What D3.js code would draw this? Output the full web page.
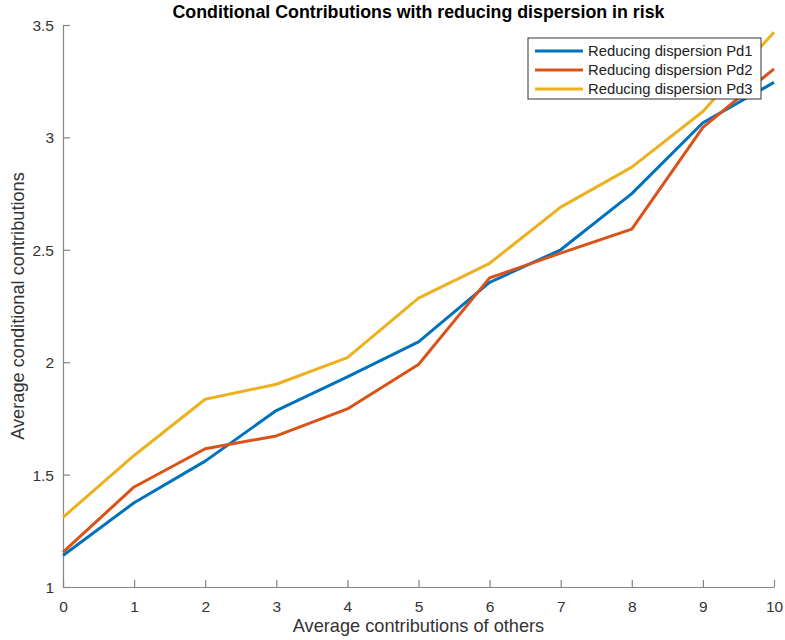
<!DOCTYPE html>
<html>
<head>
<meta charset="utf-8">
<script src="https://cdn.jsdelivr.net/npm/d3@7"></script>
<style>
    body { margin: 0; background: #fff; }
    text { font-family: "Liberation Sans", Arial, sans-serif; }
</style>
</head>
<body>
<div id="chart"></div>
<script>
let xValues = [0, 1, 2, 3, 4, 5, 6, 7, 8, 9, 10]
let pd1 = [1.14, 1.375, 1.56, 1.785, 1.935, 2.09, 2.355, 2.50, 2.75, 3.065, 3.245]
let pd2 = [1.155, 1.445, 1.615, 1.672, 1.792, 1.99, 2.375, 2.485, 2.592, 3.045, 3.305]
let pd3 = [1.31, 1.585, 1.835, 1.902, 2.02, 2.285, 2.44, 2.69, 2.868, 3.115, 3.468]
let seriesNames = ["Reducing dispersion Pd1", "Reducing dispersion Pd2", "Reducing dispersion Pd3"]
let xTicks = [0, 1, 2, 3, 4, 5, 6, 7, 8, 9, 10]
let yTicks = [1, 1.5, 2, 2.5, 3, 3.5]

let colors = ["#0072bd", "#d95319", "#edb120"]

let width = 785, height = 640
let margin = { top: 25, right: 11, bottom: 53, left: 63 }

let svg = d3.select('#chart')
    .append('svg')
    .attr('width', width)
    .attr('height', height)

let x = d3.scaleLinear()
    .domain([0, 10])
    .range([margin.left, width - margin.right])

let y = d3.scaleLinear()
    .domain([1, 3.5])
    .range([height - margin.bottom, margin.top])

// axes, MATLAB style ticks pointing inward
let xAxis = d3.axisBottom(x)
    .tickValues(xTicks)
    .tickSizeInner(-7)
    .tickSizeOuter(0)
    .tickPadding(11)
    .tickFormat(d3.format('d'))

let yAxis = d3.axisLeft(y)
    .tickValues(yTicks)
    .tickSizeInner(-7)
    .tickSizeOuter(0)
    .tickPadding(9)
    .tickFormat(d => d)

let gx = svg.append('g')
    .attr('transform', `translate(0, ${y(1)})`)
    .call(xAxis)

let gy = svg.append('g')
    .attr('transform', `translate(${x(0)}, 0)`)
    .call(yAxis)

;[gx, gy].forEach(g => {
    g.select('.domain').attr('stroke', '#858585').attr('stroke-width', 1.2)
    g.selectAll('.tick line').attr('stroke', '#858585').attr('stroke-width', 1.2)
    g.selectAll('.tick text')
        .attr('fill', '#333')
        .style('font-size', '15.5px')
})
gx.selectAll('.tick text').attr('dy', '0.9em')
gy.selectAll('.tick text').attr('dy', '0.35em')

// lines
let line = d3.line()
    .x((d, i) => x(xValues[i]))
    .y(d => y(d))

;[pd1, pd2, pd3].forEach((s, i) => {
    svg.append('path')
        .datum(s)
        .attr('d', line)
        .attr('fill', 'none')
        .attr('stroke', colors[i])
        .attr('stroke-width', 3)
        .attr('stroke-linejoin', 'round')
})

// title and labels
svg.append('text')
    .text('Conditional Contributions with reducing dispersion in risk')
    .attr('x', (x(0) + x(10)) / 2)
    .attr('y', 18)
    .attr('text-anchor', 'middle')
    .style('font-size', '17.8px')
    .style('font-weight', 'bold')
    .attr('fill', '#000')

svg.append('text')
    .text('Average contributions of others')
    .attr('x', (x(0) + x(10)) / 2)
    .attr('y', 632)
    .attr('text-anchor', 'middle')
    .style('font-size', '18.2px')
    .attr('fill', '#333')

svg.append('text')
    .text('Average conditional contributions')
    .attr('transform', `translate(24, ${(y(1) + y(3.5)) / 2}) rotate(-90)`)
    .attr('text-anchor', 'middle')
    .style('font-size', '18.2px')
    .attr('fill', '#333')

// legend
let legend = svg.append('g')
    .attr('transform', 'translate(528, 38)')

legend.append('rect')
    .attr('width', 233)
    .attr('height', 61)
    .attr('fill', '#fff')
    .attr('stroke', '#333')
    .attr('stroke-width', 1)

seriesNames.forEach((name, i) => {
    let row = legend.append('g')
        .attr('transform', `translate(0, ${13 + i * 19})`)
    row.append('line')
        .attr('x1', 7)
        .attr('x2', 55)
        .attr('stroke', colors[i])
        .attr('stroke-width', 3)
    row.append('text')
        .text(name)
        .attr('x', 60)
        .attr('dy', '0.36em')
        .style('font-size', '14.8px')
        .attr('fill', '#222')
})
</script>
</body>
</html>
